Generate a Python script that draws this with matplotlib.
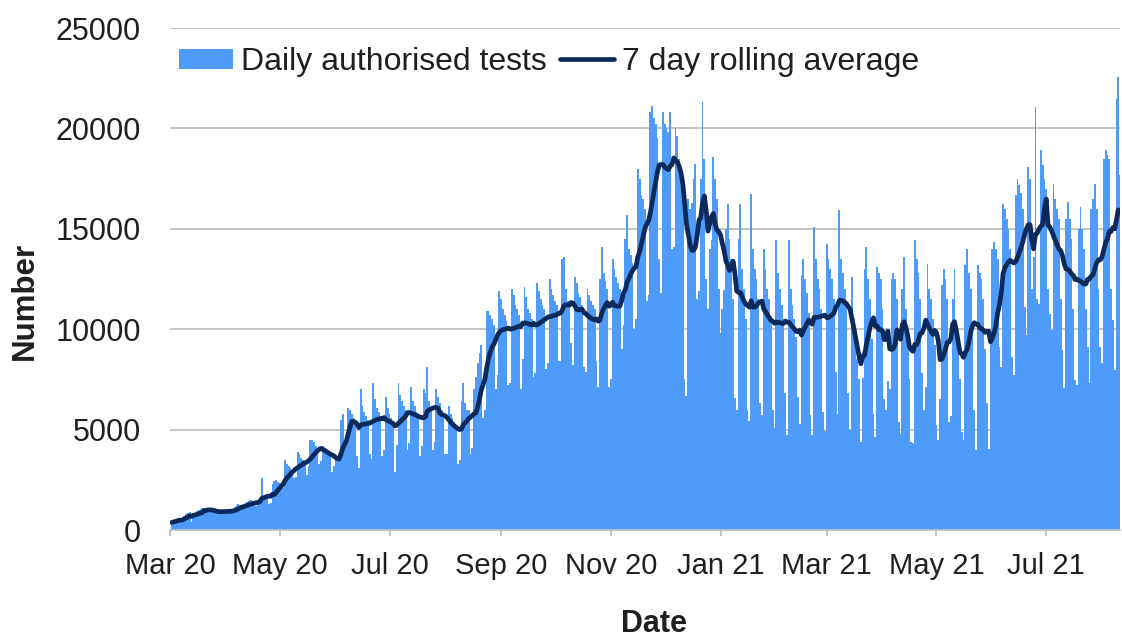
import pandas as pd
import matplotlib.pyplot as plt

# daily authorised tests, one row per week (Mon..Sun), starting Mon 2 Mar 2020
daily_tests = [
    380, 420, 480, 540, 600, 520, 580,
    720, 780, 850, 900, 420, 850, 730,
    950, 1000, 1050, 1100, 1080, 880, 940,
    980, 950, 940, 920, 900, 820, 860,
    1000, 980, 960, 950, 940, 860, 960,
    1150, 1250, 1300, 1250, 1200, 1050, 1200,
    1400, 1450, 1500, 1420, 1350, 1200, 1350,
    1600, 2590, 1700, 1650, 1600, 1300, 1330,
    2300, 2450, 2500, 2400, 2350, 2000, 2100,
    3500, 3300, 3200, 3100, 3000, 2600, 2650,
    3900, 3800, 3600, 3500, 3400, 2750, 3200,
    4500, 4500, 4400, 4200, 4100, 3300, 3420,
    4200, 4100, 4000, 3800, 3700, 2900, 3200,
    3600, 3700, 3800, 5500, 5800, 4200, 4400,
    6100, 6000, 5800, 5600, 5400, 3700, 3100,
    7000, 6200, 5900, 5700, 5500, 3800, 3560,
    7300, 6500, 6100, 5900, 5700, 3700, 4000,
    6600, 6100, 5800, 5600, 5300, 2900, 4240,
    7300, 6700, 6400, 6200, 6000, 4000, 4350,
    7100, 6400, 6200, 5900, 5700, 3700, 4200,
    7000, 6800, 8100, 6400, 6000, 4000, 4400,
    7000, 6600, 6300, 6000, 5700, 3800, 3800,
    6200, 5800, 5600, 5400, 5200, 3300, 3500,
    6400, 7300, 6300, 6000, 6000, 3800, 4100,
    7000, 7600, 8300, 8800, 9200, 5600, 6000,
    10900, 10900, 10700, 10500, 10200, 7000, 7700,
    11900, 11500, 11000, 10700, 10400, 7200, 7300,
    12000, 11700, 11200, 11000, 10700, 7000, 8500,
    12100, 11600, 11000, 10800, 10500, 7600, 7800,
    12300, 11900, 11500, 11200, 11000, 8000, 8300,
    12500, 12000, 11700, 11400, 11200, 8400, 8400,
    13500, 13600, 12000, 11400, 11100, 9300, 8200,
    12600, 12300, 11800, 11600, 11200, 8100, 7860,
    12000, 11700, 11400, 11200, 11000, 8400, 7100,
    12500, 14100, 12800, 12400, 12000, 7100, 7500,
    13500, 13000, 12600, 12300, 12000, 9000, 10200,
    14500, 15670, 14000, 13700, 13300, 10000, 10530,
    18000, 17500, 16700, 16500, 16000, 11400, 11700,
    20800, 21100, 20500, 20200, 19500, 13500, 11800,
    20800, 20200, 20000, 19800, 20800, 14000, 14100,
    20000, 19600, 18500, 17500, 17050, 7500, 6670,
    16500, 16000, 16290, 17500, 18240, 11500, 11910,
    17500, 21310, 18500, 12480, 11000, 14000, 14460,
    18570, 17500, 16500, 12000, 9790, 11000, 11940,
    15000, 16250, 14500, 13500, 11500, 6550, 6000,
    14500, 16250, 13000, 12000, 10500, 6000, 5450,
    16750, 14000, 13000, 12500, 11500, 6300, 5750,
    14010, 13000, 12000, 11500, 10500, 6000, 5090,
    14430, 12800, 12000, 11200, 10500, 6800, 4720,
    14430, 12000, 11200, 10500, 9600, 6630, 5290,
    12690, 13500, 12500, 11800, 10800, 5720, 4740,
    15090, 13500, 12500, 12000, 11000, 5890, 4920,
    14260, 13500, 13000, 12500, 11500, 7880, 5760,
    15920, 13500, 12800, 12000, 11000, 6800, 4980,
    12600, 10500, 9500, 8500, 7500, 4390, 7560,
    13000, 14100, 12500, 11500, 9500, 5800, 4650,
    13100, 12800, 12500, 11000, 6500, 5970, 7430,
    7000, 12520, 12800, 12500, 11500, 5390, 4790,
    12000, 13600, 11000, 9500, 7500, 4390, 4310,
    14430, 13500, 12800, 11500, 7800, 6000, 7120,
    13270, 12000, 11500, 10500, 9200, 5220, 4460,
    6500, 12190, 13000, 12500, 11500, 5390, 5700,
    11500, 13020, 10000, 8800, 7500, 4890, 4490,
    13200, 14010, 12800, 12000, 9800, 5970, 3970,
    13180, 12800, 12500, 11500, 9000, 6300, 4020,
    9500, 14000, 14340, 14000, 13500, 9120, 8140,
    16250, 16000, 15500, 15000, 14000, 8620, 7730,
    16670, 17500, 17200, 16800, 16000, 11110, 9720,
    18080, 17500, 12000, 13600, 21060, 11500, 11260,
    18900, 18160, 17500, 17000, 12000, 10780, 9960,
    17250, 16500, 16000, 15500, 11500, 8950, 7050,
    15500, 16330, 15500, 14500, 11000, 7460, 7210,
    15000, 16080, 15000, 14000, 11000, 9120, 7300,
    16000, 16500, 17250, 16000, 12000, 9120, 8330,
    18500, 18900, 18700, 18500, 12000, 10450, 7950,
    21470, 22550, 17700,
]
start_date = '2020-03-02'
tick_dates = ['2020-03-01', '2020-05-01', '2020-07-01', '2020-09-01', '2020-11-01',
              '2021-01-01', '2021-03-01', '2021-05-01', '2021-07-01']
tick_labels = ['Mar 20', 'May 20', 'Jul 20', 'Sep 20', 'Nov 20',
               'Jan 21', 'Mar 21', 'May 21', 'Jul 21']
y_ticks = [0, 5000, 10000, 15000, 20000, 25000]

dates = pd.date_range(start_date, periods=len(daily_tests), freq='D')
tests = pd.Series(daily_tests, index=dates)
rolling = tests.rolling(7, min_periods=1).mean()

plt.rcParams['font.family'] = ['Liberation Sans', 'DejaVu Sans']
text_col = '#1f1f1f'
grid_col = '#c0c0c0'

fig = plt.figure(figsize=(11.22, 6.39), dpi=100)
ax = fig.add_axes([170 / 1122, 1 - 530 / 639, 950 / 1122, 502 / 639])

bars = ax.bar(dates, tests.values, width=1.0, color='#4f9bfa', linewidth=0,
              label='Daily authorised tests', zorder=2)
line, = ax.plot(dates, rolling.values, color='#0b2a5b', lw=3.4, solid_capstyle='round',
                label='7 day rolling average', zorder=3)

ax.set_xlim(pd.Timestamp('2020-03-01'), pd.Timestamp('2020-03-01') + pd.Timedelta(days=528))
ax.set_ylim(0, 25000)
ax.set_yticks(y_ticks)
ax.set_yticklabels([str(v) for v in y_ticks])
ax.set_xticks(pd.to_datetime(tick_dates))
ax.set_xticklabels(tick_labels)

ax.grid(axis='y', color=grid_col, lw=1.3)
ax.set_axisbelow(True)
for s in ['top', 'right', 'left']:
    ax.spines[s].set_visible(False)
ax.spines['bottom'].set_color(grid_col)
ax.spines['bottom'].set_linewidth(1.3)
ax.tick_params(axis='x', colors=grid_col, length=4.5, width=1.3, pad=11,
               labelsize=21, labelcolor=text_col)
ax.tick_params(axis='y', length=0, pad=21, labelsize=22, labelcolor=text_col)

leg = ax.legend([bars, line], ['Daily authorised tests', '7 day rolling average'],
                loc='center left', bbox_to_anchor=(179 / 1122, 1 - 62 / 639),
                bbox_transform=fig.transFigure, ncol=2, frameon=False,
                fontsize=23, handlelength=1.7, handleheight=0.6,
                handletextpad=0.25, columnspacing=0.4, borderpad=0, borderaxespad=0)
for t in leg.get_texts():
    t.set_color(text_col)

fig.text(25 / 1122, 1 - 301 / 639, 'Number', rotation=90, ha='center', va='center',
         fontsize=22.5, fontweight='bold', color=text_col)
fig.text(654 / 1122, 1 - 632 / 639, 'Date', ha='center', va='baseline',
         fontsize=22, fontweight='bold', color=text_col)

plt.savefig('out.png', dpi=100)
